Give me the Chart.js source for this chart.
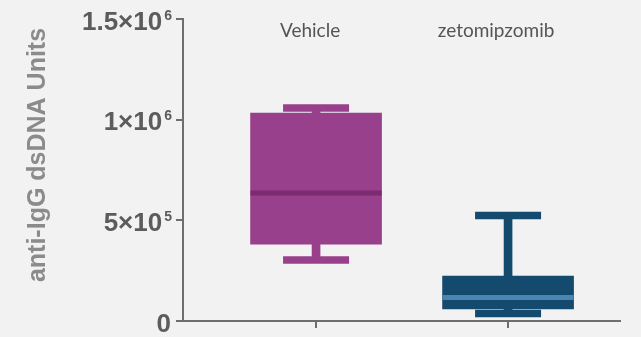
<!DOCTYPE html>
<html>
<head>
<meta charset="utf-8">
<script src="https://cdn.jsdelivr.net/npm/chart.js@4/dist/chart.umd.min.js"></script>
<style>
	body { margin: 0; background: #f2f2f2; }
	#wrap { width: 641px; height: 337px; position: relative; }
</style>
</head>
<body>
<div id="wrap"><canvas id="boxChart"></canvas></div>
<script>
const groups = ['Vehicle', 'zetomipzomib']
const mins = [303000, 37000]
const q1s = [382000, 60000]
const medians = [636000, 117000]
const q3s = [1033000, 223000]
const maxs = [1058000, 524000]
const yTicks = [0, 500000, 1000000, 1500000]

const boxColors = ['#98408b', '#154a6f']
const medianColors = ['#7b2b70', '#4a86b2']
const axisColor = '#6e6e6e'

const xs = groups.map((g, i) => i + 1)

// background, superscript tick labels, group names, axis title
const decorations = {
	id: 'decorations',
	beforeDraw(chart) {
		const ctx = chart.ctx
		ctx.save()
		ctx.fillStyle = '#f2f2f2'
		ctx.fillRect(0, 0, chart.width, chart.height)
		ctx.restore()
	},
	afterDraw(chart) {
		const ctx = chart.ctx
		const y = chart.scales.y
		const x = chart.scales.x
		const area = chart.chartArea
		ctx.save()
		ctx.fillStyle = '#5c5c5c'
		ctx.textBaseline = 'alphabetic'
		const right = area.left - 11
		yTicks.forEach(v => {
			const py = y.getPixelForValue(v)
			if (v === 0) {
				ctx.font = 'bold 26px "Liberation Sans", Arial, sans-serif'
				ctx.textAlign = 'right'
				ctx.fillText('0', right - 1, py + 10.5)
				return
			}
			const exp = Math.floor(Math.log10(v))
			const mant = +(v / Math.pow(10, exp)).toFixed(2)
			ctx.font = 'bold 14px "Liberation Sans", Arial, sans-serif'
			const supW = ctx.measureText(String(exp)).width
			ctx.textAlign = 'right'
			ctx.fillText(String(exp), right, py + 0.5)
			ctx.font = 'bold 26px "Liberation Sans", Arial, sans-serif'
			ctx.fillText(mant + '×10', right - supW - 2, py + 10.5)
		})

		// group names inside the plot
		ctx.fillStyle = '#555555'
		ctx.font = '19px Lato, "Liberation Sans", sans-serif'
		ctx.textAlign = 'center'
		ctx.textBaseline = 'middle'
		const shifts = [-6, -12]
		groups.forEach((g, i) => {
			ctx.fillText(g, x.getPixelForValue(xs[i]) + shifts[i], y.getPixelForValue(1500000) + 12)
		})

		// y axis title
		ctx.translate(38, 155)
		ctx.rotate(-Math.PI / 2)
		ctx.fillStyle = '#8b8b8b'
		ctx.font = 'bold 25px "Liberation Sans", Arial, sans-serif'
		ctx.fillText('anti-IgG dsDNA Units', 0, 0)
		ctx.restore()
	}
}

new Chart(document.getElementById('boxChart'), {
	data: {
		datasets: [
			{
				type: 'scatter',
				order: 0,
				data: xs.map((xv, i) => ({ x: xv, y: medians[i] })),
				pointStyle: 'line',
				pointRadius: 65.5,
				pointBorderWidth: 5,
				pointBorderColor: medianColors
			},
			{
				type: 'bar',
				order: 1,
				data: xs.map((xv, i) => ({ x: xv, y: [q1s[i], q3s[i]] })),
				backgroundColor: boxColors,
				barThickness: 131,
				grouped: false
			},
			{
				type: 'scatter',
				order: 2,
				data: xs.map((xv, i) => ({ x: xv, y: maxs[i] })).concat(xs.map((xv, i) => ({ x: xv, y: mins[i] }))),
				pointStyle: 'line',
				pointRadius: 33,
				pointBorderWidth: 7.5,
				pointBorderColor: boxColors.concat(boxColors)
			},
			{
				type: 'bar',
				order: 3,
				data: xs.map((xv, i) => ({ x: xv, y: [mins[i], maxs[i]] })),
				backgroundColor: boxColors,
				barThickness: 8,
				grouped: false
			}
		]
	},
	plugins: [decorations],
	options: {
		responsive: true,
		maintainAspectRatio: false,
		animation: false,
		events: [],
		layout: { autoPadding: false, padding: { top: 19, right: 21, left: 0, bottom: 0 } },
		plugins: {
			legend: { display: false },
			tooltip: { enabled: false }
		},
		scales: {
			x: {
				type: 'linear',
				min: 0.307,
				max: 2.583,
				offset: false,
				afterBuildTicks: scale => { scale.ticks = xs.map(v => ({ value: v })) },
				afterFit: scale => { scale.height = 16 },
				ticks: { display: false },
				grid: { offset: false, drawOnChartArea: false, drawTicks: true, tickLength: 7, color: axisColor, lineWidth: 2 },
				border: { color: axisColor, width: 2 }
			},
			y: {
				type: 'linear',
				min: 0,
				max: 1500000,
				afterBuildTicks: scale => { scale.ticks = yTicks.map(v => ({ value: v })) },
				afterFit: scale => { scale.width = 183 },
				ticks: { display: false },
				grid: { drawOnChartArea: false, drawTicks: true, tickLength: 7, color: axisColor, lineWidth: 2 },
				border: { color: axisColor, width: 2 }
			}
		}
	}
})
</script>
</body>
</html>
